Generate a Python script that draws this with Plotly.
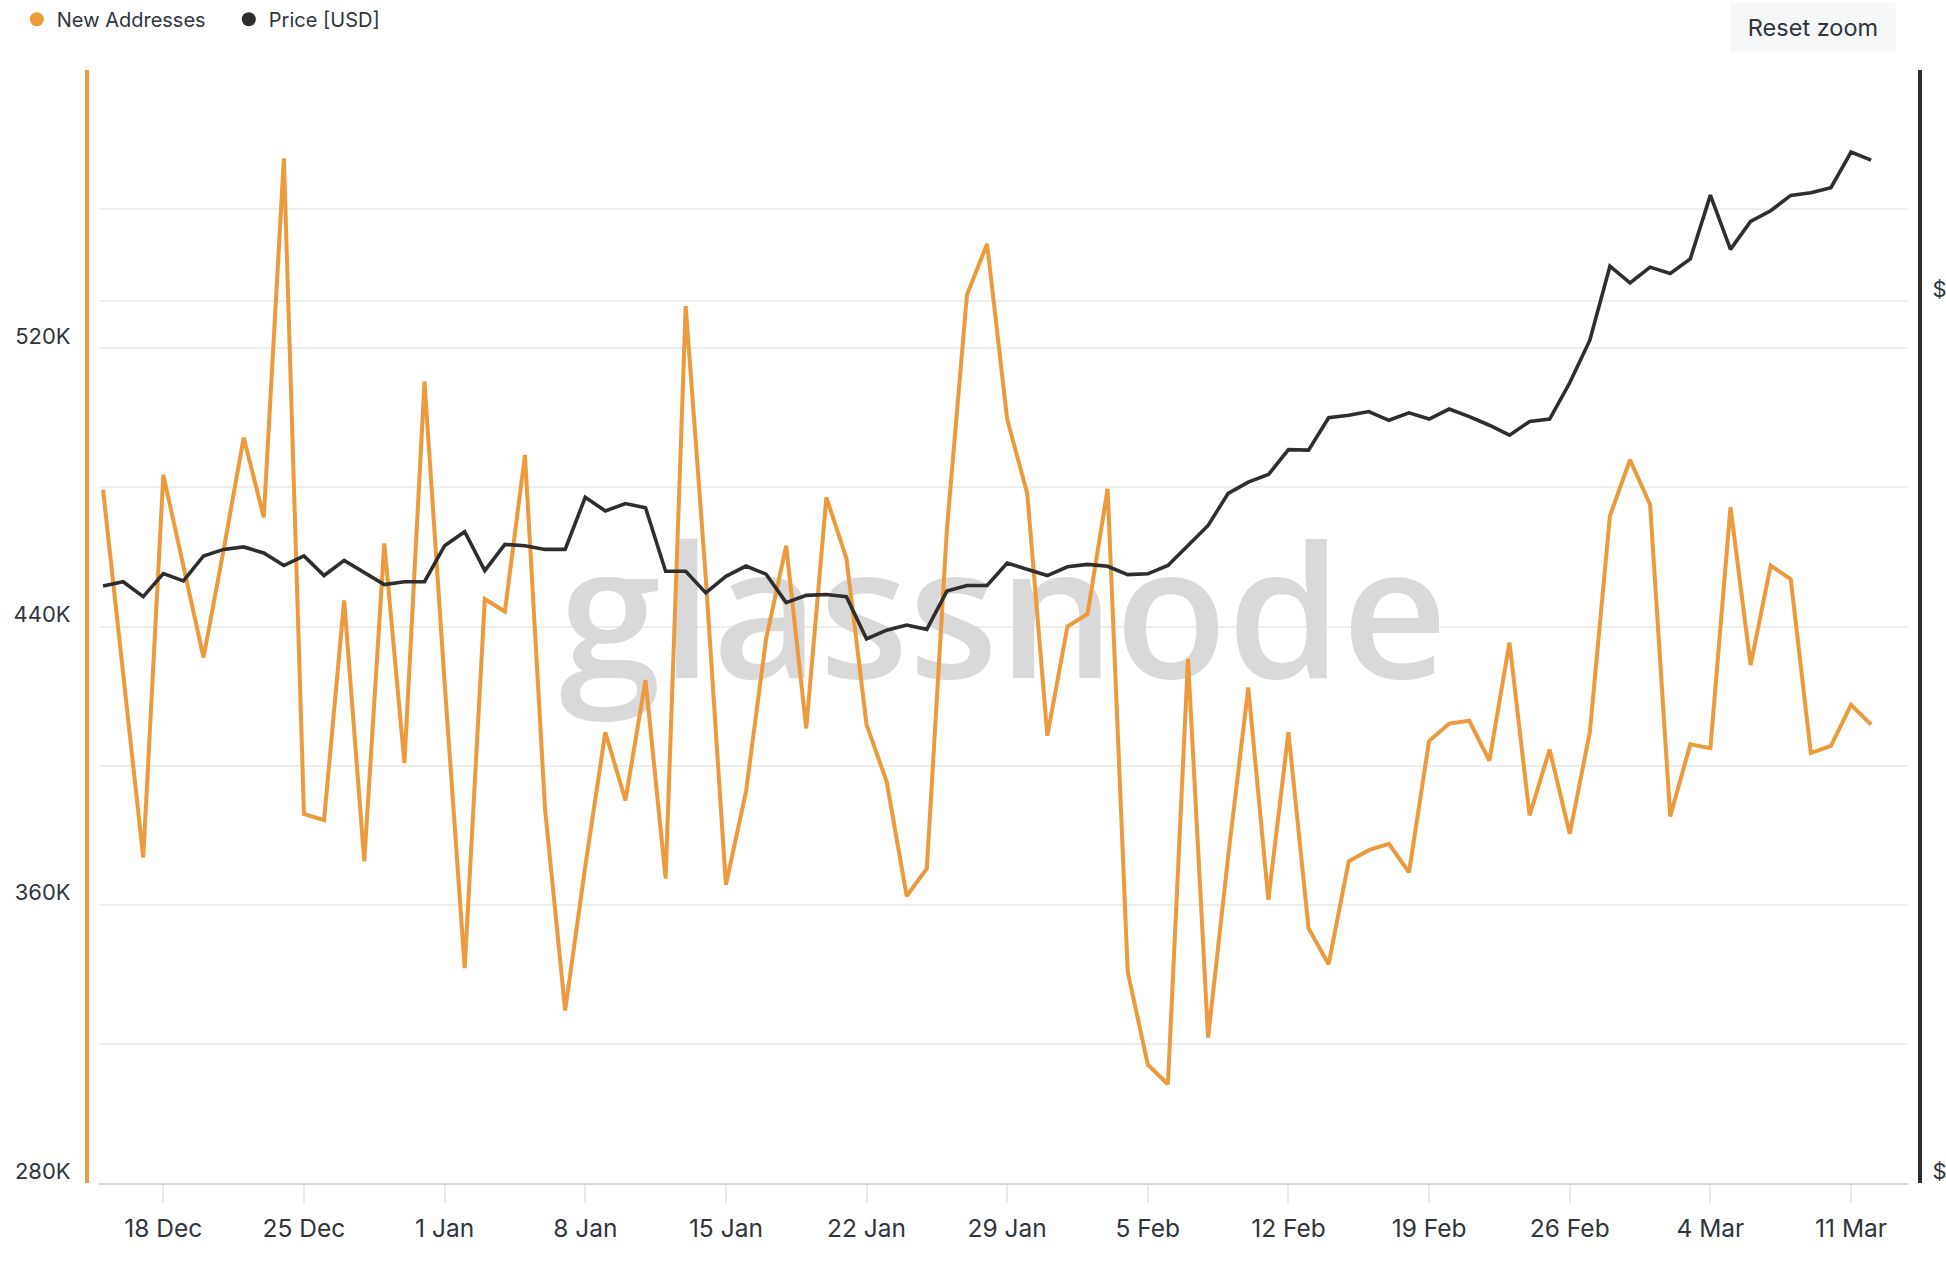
import math
import pandas as pd
import plotly.graph_objects as go

# daily values, 15 Dec 2023 .. 12 Mar 2024
start_date = "2023-12-15"

new_addresses = [
    479300, 427500, 373600, 483600, 457000, 431100, 462000, 494300, 471400, 574600,
    386100, 384300, 447500, 372500, 463900, 400700, 510400, 423900, 341800, 447900,
    444300, 489300, 387500, 329600, 371000, 409600, 390000, 424600, 367500, 532100,
    454000, 365700, 392500, 436400, 463200, 410700, 477100, 459600, 411800, 395400,
    362500, 370400, 467900, 535400, 550000, 499600, 478200, 408600, 440000, 443600,
    479600, 340700, 314000, 308400, 430700, 321800, 373900, 422500, 361400, 409600,
    353200, 342900, 372500, 375700, 377500, 369300, 407100, 412100, 412900, 401400,
    435400, 385700, 404600, 380400, 409600, 471800, 487900, 475000, 385400, 406100,
    405000, 474300, 428900, 457500, 453600, 403600, 405700, 417500, 411800,
]

price_usd = [
    42066, 42294, 41516, 42722, 42334, 43672, 44031, 44168, 43835, 43154,
    43672, 42622, 43436, 42761, 42144, 42294, 42294, 44236, 45016, 42886,
    44305, 44236, 44031, 44031, 46984, 46191, 46622, 46378, 42854, 42847,
    41710, 42582, 43127, 42695, 41208, 41580, 41625, 41516, 39386, 39815,
    40075, 39859, 41806, 42098, 42098, 43287, 42954, 42622, 43086, 43220,
    43114, 42668, 42714, 43161, 44250, 45364, 47218, 47880, 48334, 49860,
    49830, 51875, 52036, 52278, 51714, 52197, 51795, 52441, 51955, 51396,
    50764, 51634, 51795, 54187, 57140, 62658, 61372, 62581, 62090, 63231,
    68456, 63979, 66246, 67134, 68435, 68657, 69094, 72232, 71509,
]

dates = pd.date_range(start_date, periods=len(new_addresses), freq="D")

x_ticks = pd.date_range("2023-12-18", "2024-03-11", freq="7D")

left_ticks = [280000, 320000, 360000, 400000, 440000, 480000, 520000, 560000, 600000]
left_labels = ["280K", "", "360K", "", "440K", "", "520K", "", ""]
right_ticks = [20000, 60000]
right_labels = ["$20K", "$60K"]

ORANGE = "#ec9a3c"
DARK = "#2e2e2e"
TXT = "#30353c"
GRID = "#eeeeee"
FONT = "Inter"

fig = go.Figure()

# watermark, drawn first so the lines sit on top of it
fig.add_trace(go.Scatter(
    x=[pd.Timestamp("2024-01-28 19:30")], y=[438500],
    mode="text", text=["glassnode"],
    textfont=dict(family="Open Sans", size=184, color="#d9d9d9", weight=600),
    textposition="middle center", hoverinfo="skip", showlegend=False,
))

fig.add_trace(go.Scatter(
    x=dates, y=new_addresses, mode="lines", name="New Addresses",
    line=dict(color=ORANGE, width=4), yaxis="y", showlegend=False,
))
fig.add_trace(go.Scatter(
    x=dates, y=price_usd, mode="lines", name="Price [USD]",
    line=dict(color=DARK, width=3.6), yaxis="y2", showlegend=False,
))

# legend entries with round dots
for nm, col in [("New Addresses", ORANGE), ("Price [USD]", DARK)]:
    fig.add_trace(go.Scatter(
        x=[None], y=[None], mode="markers", name=nm,
        marker=dict(color=col, size=14), showlegend=True,
    ))

fig.update_layout(
    width=1946, height=1263,
    margin=dict(l=87, r=26, t=70, b=80, autoexpand=False),
    paper_bgcolor="white", plot_bgcolor="white",
    font=dict(family=FONT, color=TXT),
    hovermode=False,
    legend=dict(
        orientation="h", xref="paper", yref="paper",
        x=-0.0383, y=1.0631, xanchor="left", yanchor="top",
        font=dict(size=20, color=TXT, family=FONT),
        entrywidth=167, entrywidthmode="pixels",
        bgcolor="rgba(0,0,0,0)",
    ),
    xaxis=dict(
        type="date", domain=[0.0067, 0.9932],
        range=["2023-12-14 19:30", "2024-03-13 19:30"],
        tickvals=x_ticks, tickformat="%-d %b",
        tickfont=dict(size=24.5, color=TXT),
        showgrid=False, zeroline=False,
        showline=True, linecolor="#d6d6d6", linewidth=2,
        ticks="outside", ticklen=18, tickwidth=2, tickcolor="#e8e8e8",
        ticklabelstandoff=5, automargin=False,
        anchor="y",
    ),
    yaxis=dict(
        range=[280000, 600000], anchor="free", position=0, side="left",
        tickvals=left_ticks, ticktext=left_labels,
        tickfont=dict(size=22, color=TXT),
        showgrid=True, gridcolor=GRID, gridwidth=1.5, zeroline=False,
        showline=True, linecolor=ORANGE, linewidth=4,
        ticks="", ticklabelstandoff=10, ticklabelshift=-12, automargin=False,
    ),
    yaxis2=dict(
        type="log", range=[math.log10(20000), math.log10(80000)],
        overlaying="y", anchor="free", position=1, side="right",
        tickvals=right_ticks, ticktext=right_labels,
        tickfont=dict(size=22, color=TXT),
        showgrid=True, gridcolor=GRID, gridwidth=1.5, zeroline=False,
        showline=True, linecolor=DARK, linewidth=4,
        ticks="", ticklabelstandoff=6, ticklabelshift=-12, automargin=False,
    ),
)

fig.add_annotation(
    text="Reset zoom", xref="paper", yref="paper",
    x=0.9416, y=1.0386, xanchor="center", yanchor="middle",
    showarrow=False, width=164, height=49, borderpad=0,
    bgcolor="#f6f7f9", font=dict(size=23.5, color=TXT, family=FONT),
)

# drop the default page margin so the figure fills the window exactly
fig.write_html(
    "out.html",
    config={"displayModeBar": False},
    post_script="document.body.style.margin='0';document.body.style.overflow='hidden';",
)
